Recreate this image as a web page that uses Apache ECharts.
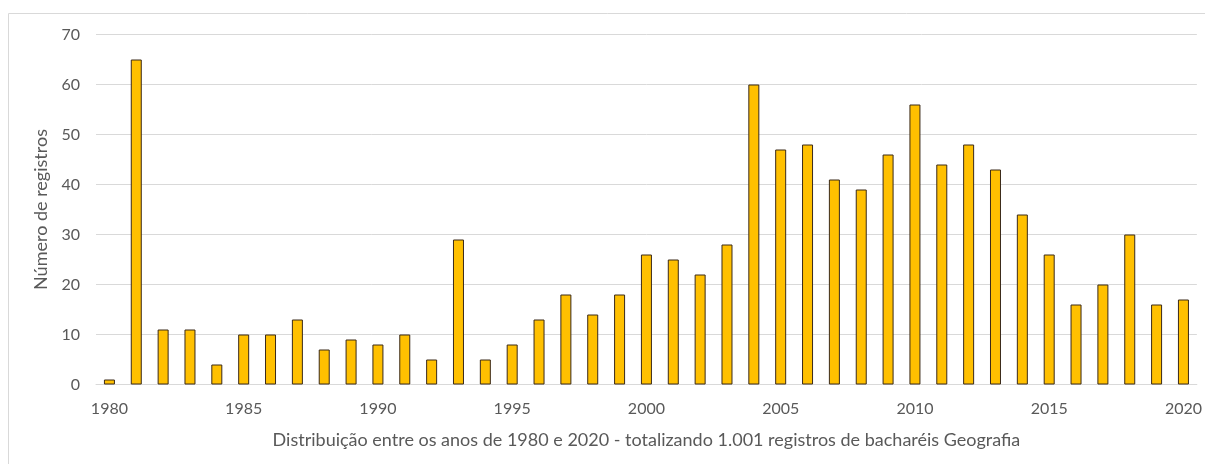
<!DOCTYPE html>
<html><head><meta charset="utf-8">
<script src="https://cdn.jsdelivr.net/npm/echarts@6/dist/echarts.min.js"></script>
<style>html,body{margin:0;padding:0;background:#fff}#c{width:1205px;height:464px}</style>
</head><body><div id="c"></div>
<script>
const years = [];
for (let y = 1980; y <= 2020; y++) years.push(String(y));
const values = [1,65,11,11,4,10,10,13,7,9,8,10,5,29,5,8,13,18,14,18,26,25,22,28,60,47,48,41,39,46,56,44,48,43,34,26,16,20,30,16,17];
const yTicks = [0,10,20,30,40,50,60,70];
const yName = 'Número de registros';
const xName = 'Distribuição entre os anos de 1980 e 2020 - totalizando 1.001 registros de bacharéis Geografia';

const font = 'Lato, "Open Sans", sans-serif';
const chart = echarts.init(document.getElementById('c'), null, {renderer:'canvas'});
chart.setOption({
  animation:false,
  graphic:[{type:'rect', shape:{x:8.5,y:13.5,width:1210,height:470}, style:{fill:'none',stroke:'#d9d9d9',lineWidth:1}, silent:true}],
  grid:{left:96, right:8, top:34.5, bottom:79.5},
  xAxis:{type:'category', data:years,
    axisLine:{lineStyle:{color:'#d9d9d9'}}, axisTick:{show:false},
    axisLabel:{interval:4, color:'#595959', fontSize:16, fontFamily:font, margin:16},
    name:xName, nameLocation:'middle', nameGap:47,
    nameTextStyle:{color:'#595959', fontSize:18, fontFamily:font}},
  yAxis:{type:'value', min:yTicks[0], max:yTicks[yTicks.length-1], interval:10,
    axisLine:{show:false}, axisTick:{show:false},
    splitLine:{lineStyle:{color:'#d9d9d9'}},
    axisLabel:{color:'#595959', fontSize:16, fontFamily:font, margin:16},
    name:yName, nameLocation:'middle', nameGap:40,
    nameTextStyle:{color:'#595959', fontSize:18, fontFamily:font}},
  series:[{type:'bar', data:values, barWidth:11,
    itemStyle:{color:'#FFC000', borderColor:'#3a2a1a', borderWidth:1}}]
});
</script></body></html>
